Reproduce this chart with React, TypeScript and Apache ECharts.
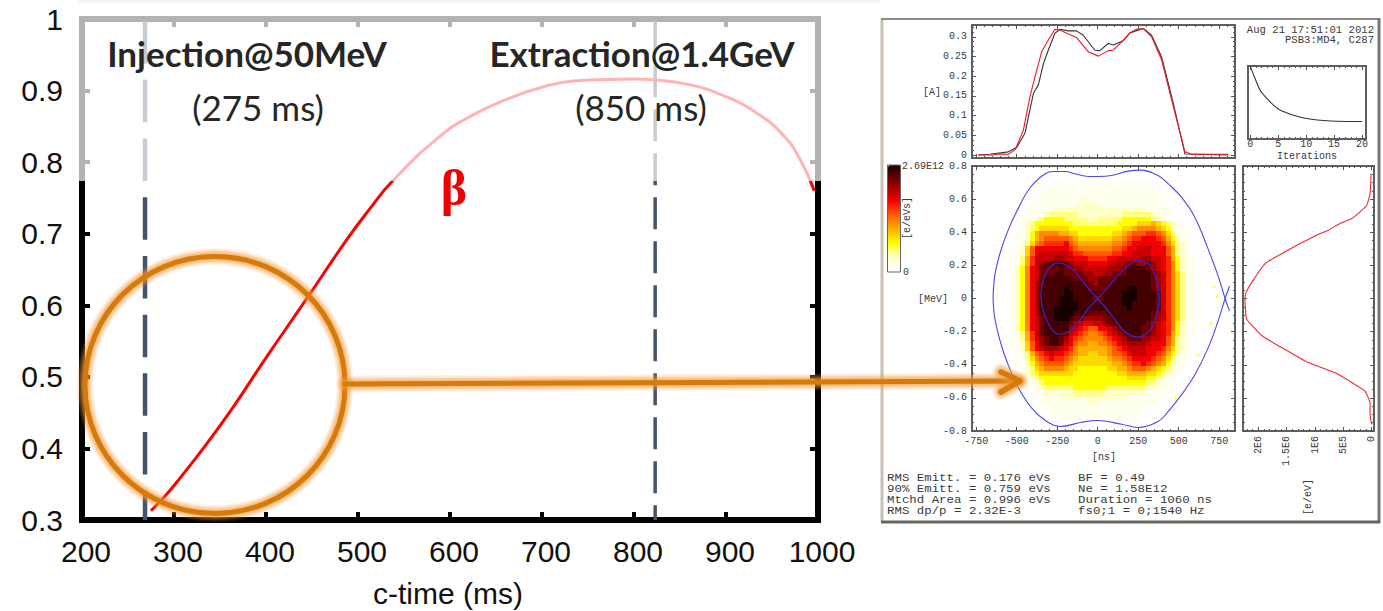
import React, { useEffect, useRef } from "react";
import * as echarts from "echarts";

// ---------- main plot ----------
const betaCurve: number[][] = [
  [275, 0.313], [292, 0.336], [306.5, 0.3585], [335.5, 0.4065], [364.5, 0.458], [400.7, 0.528], [442, 0.605], [488, 0.692],
  [513, 0.735], [537, 0.773], [589, 0.836], [625, 0.866], [662, 0.888], [698, 0.904], [734, 0.9135], [771, 0.9155],
  [800, 0.916], [821, 0.915], [861, 0.908], [897, 0.893], [934, 0.868], [962, 0.838], [980, 0.805], [996, 0.76],
];
const injectionTime = 268.5;
const extractionTime = 823;
const mainYMin = 0.3;
const mainYMax = 1;

// ---------- bunch profile (top panel) ----------
const profileRed: number[][] = [
  [-737, 0], [-654, 0], [-603, 0.0025], [-552, 0.002], [-510, 0.013], [-459, 0.063], [-418, 0.148], [-387, 0.199],
  [-346, 0.262], [-305, 0.292], [-264, 0.319], [-233, 0.317], [-181, 0.307], [-130, 0.298], [-58, 0.262], [4, 0.251],
  [65, 0.265], [96, 0.266], [148, 0.287], [199, 0.31], [240, 0.319], [282, 0.321], [333, 0.3], [395, 0.241],
  [467, 0.123], [539, 0.008], [580, 0.002], [807, 0.002],
];
const profileBlack: number[][] = [
  [-737, 0], [-665, 0.002], [-552, 0.008], [-500, 0.019], [-449, 0.055], [-397, 0.156], [-366, 0.178], [-335, 0.232],
  [-305, 0.266], [-264, 0.309], [-233, 0.319], [-181, 0.315], [-130, 0.315], [-89, 0.304], [-17, 0.266], [14, 0.265],
  [65, 0.283], [96, 0.279], [158, 0.29], [199, 0.31], [282, 0.321], [333, 0.304], [395, 0.249], [467, 0.131],
  [539, 0.0025], [807, 0],
];
const profileTicks = [0, 0.05, 0.1, 0.15, 0.2, 0.25, 0.3];

// ---------- iterations ----------
const iterationCurve: number[][] = [
  [0, 1], [0.9, 0.827], [1.8, 0.668], [3, 0.555], [4.2, 0.464], [5.4, 0.395], [7.2, 0.341], [9, 0.3],
  [11.3, 0.268], [13.1, 0.255], [15.5, 0.245], [20, 0.241],
];
const iterationTicks = [0, 5, 10, 15, 20];

// ---------- phase space ----------
const nsTicks = [-750, -500, -250, 0, 250, 500, 750];
const mevTicks = [-0.8, -0.6, -0.4, -0.2, 0, 0.2, 0.4, 0.6, 0.8];
const outerUpper: number[][] = [
  [-646, 0], [-635, 0.14], [-601, 0.28], [-554, 0.41], [-498, 0.53], [-416, 0.67], [-324, 0.753], [-273, 0.767],
  [-201, 0.767], [-139, 0.753], [-57, 0.737], [0, 0.737], [86, 0.743], [189, 0.769], [260, 0.775], [373, 0.743],
  [435, 0.693], [517, 0.612], [599, 0.492], [681, 0.301], [742, 0.141], [787, 0], [814, -0.076],
];
const outerLower: number[][] = [
  [814, 0.074], [787, 0], [742, -0.141], [681, -0.301], [599, -0.462], [517, -0.582], [435, -0.683], [373, -0.743],
  [250, -0.779], [148, -0.759], [0, -0.737], [-98, -0.747], [-232, -0.773], [-314, -0.743], [-406, -0.663],
  [-488, -0.542], [-560, -0.382], [-601, -0.261], [-635, -0.12], [-646, 0],
];
const innerEight: number[][] = [
  [0, 0], [-57, 0.06], [-139, 0.161], [-201, 0.205], [-242, 0.215], [-293, 0.191], [-334, 0.12], [-351, 0.02],
  [-334, -0.08], [-293, -0.171], [-242, -0.215], [-191, -0.207], [-119, -0.141], [-57, -0.06], [0, 0], [66, 0.07],
  [148, 0.161], [250, 0.229], [322, 0.201], [363, 0.11], [379, 0], [363, -0.1], [322, -0.191], [250, -0.233],
  [168, -0.201], [86, -0.1], [0, 0],
];
const specks: number[][] = [
  [-370, 0.7], [-490, 0.54], [-590, 0.29], [720, 0.07], [740, 0.01], [700, -0.15], [620, -0.34], [480, -0.6],
];
// density levels (one hex digit per cell, spaces only for reading), top row first
const densityXStart = -645;
const densityXStep = 30;
const densityYStart = 0.78;
const densityYStep = 0.03;
const densityRows: string[] = [
  "0000 0000 0000 0000 0000 0000 0000 0000 0000 0000 0000",
  "0000 0000 0000 0000 0000 0000 0000 0000 0000 0000 0000",
  "0000 0000 0000 0000 0000 0000 0000 0000 0000 0000 0000",
  "0000 0000 0000 0111 1111 1111 1111 1111 1000 0000 0000",
  "0000 0000 0001 1111 1111 1111 1111 1111 1100 0000 0000",
  "0000 0000 0011 1111 1111 1111 1111 1111 1110 0000 0000",
  "0000 0000 0111 1111 1112 1111 1111 1111 1110 0000 0000",
  "0000 0000 1111 1111 1122 2211 1111 1111 1111 0000 0000",
  "0000 0001 1111 1222 2222 2222 2222 2222 1111 1000 0000",
  "0000 0001 1112 3333 3322 2222 2223 3333 3221 1000 0000",
  "0000 0011 1234 4443 3333 2233 3334 4444 4321 1000 0000",
  "0000 0012 3444 4444 4333 3333 3344 4455 5654 3211 0000",
  "0000 0012 3455 5555 4444 4444 4445 5677 7765 4211 0000",
  "0000 0112 4677 7766 5544 4444 4556 7888 9987 5321 1000",
  "0000 0112 4678 8888 7655 5555 5667 899a aa98 6421 1000",
  "0000 0113 5789 999a 8766 6666 6778 9aaa aaa9 7532 1000",
  "0000 1125 8aaa aaaa 9877 7777 7889 aabb baaa 8632 1000",
  "0000 1125 8abb bbbb a998 8888 899a abbb baaa 8632 1000",
  "0000 1136 9bbb bccb baaa 9999 aabb bbbc cbba 9642 1100",
  "0000 1136 9bcd eeed cbbb aaaa bbcc ddcc dcba 9742 1100",
  "0000 1247 abdd dded dccb bbbb cccd eeee dcba 9742 1100",
  "0000 1247 abdd deed dddc cbbc cddd eeee edcb 9753 1100",
  "0000 1247 abde eeee eddd ccdd ddee eeee edcb 9753 1100",
  "0000 1247 acde eeee eeed dcdd deee eeee edcb 9753 1100",
  "0000 1247 acee eeef eeee dddd eeee ffee edcb 9753 1100",
  "0000 1247 acee eeef feee eeee eeef ffee eedb 9753 1100",
  "0000 1247 acee eeff feee edde eeef ffee eedb 9753 1100",
  "0000 1247 acee eeff ffee eeee eeef feee eedb 9753 1100",
  "0000 1247 acee efff ffee eeee eeee feee eedb 9753 1100",
  "0000 1247 acee efff feee dddd eeee eeee edcb 9753 1100",
  "0000 1247 abde efff eddc cccd deee eeee edcb 9753 1100",
  "0000 1247 abde eeee dcba abbc ddee eeee dcba 9742 1100",
  "0000 1247 abde eeee cba9 88aa bcde eeed dcba 9742 1100",
  "0000 1136 9bde eeed ba98 7789 abcd eeed dcba 9642 1100",
  "0000 1136 9bcd eedc a987 7778 9abc dddc cbba 8632 1000",
  "0000 1125 8acd eedb a877 6677 89ab cccc baaa 8632 1000",
  "0000 0125 8abc ccba 9766 6666 789a bbbb aaa9 7532 1000",
  "0000 0113 689a baa9 8766 5566 7889 abbb aa98 6421 1000",
  "0000 0113 5789 a998 7655 5555 6778 9aaa a987 5321 1000",
  "0000 0112 4678 8887 6555 5555 5667 899a 9876 4211 0000",
  "0000 0012 3567 7776 5544 4444 5566 7888 7654 3211 0000",
  "0000 0012 3455 5555 5444 4444 4455 6666 5543 2110 0000",
  "0000 0011 2344 4444 4444 4444 4444 5555 4432 1100 0000",
  "0000 0001 1234 4444 4444 4444 4444 4444 3321 1000 0000",
  "0000 0001 1123 3333 3444 4444 3333 3333 2211 1000 0000",
  "0000 0000 1112 2222 2333 3332 2222 2222 1111 0000 0000",
  "0000 0000 0111 1122 2222 2222 2222 1111 1110 0000 0000",
  "0000 0000 0011 1111 1111 2211 1111 1111 1100 0000 0000",
  "0000 0000 0001 1111 1111 1111 1111 1111 1000 0000 0000",
  "0000 0000 0000 1111 1111 1111 1111 1111 0000 0000 0000",
  "0000 0000 0000 0011 1111 1111 1111 1100 0000 0000 0000",
  "0000 0000 0000 0000 0000 0000 0000 0000 0000 0000 0000",
  "0000 0000 0000 0000 0000 0000 0000 0000 0000 0000 0000",
];
const densityColors = [
  "#ffffff", "#fffff0", "#ffffc8", "#ffff80", "#ffff00", "#ffd800", "#ffb000", "#ff8800",
  "#ff5c00", "#ff2c00", "#f00000", "#c80000", "#a00000", "#700000", "#440000", "#160000",
];

// ---------- energy profile (right panel) ----------
const energyProfile: number[][] = [
  [0.012e6, 0.755], [0.029e6, 0.634], [0.088e6, 0.563], [0.206e6, 0.523], [0.353e6, 0.483], [0.559e6, 0.453],
  [0.765e6, 0.412], [0.97e6, 0.382], [1.26e6, 0.332], [1.53e6, 0.282], [1.88e6, 0.211], [2.09e6, 0.111],
  [2.21e6, 0.04], [2.235e6, 0], [2.21e6, -0.121], [2.09e6, -0.171], [1.91e6, -0.231], [1.56e6, -0.302],
  [1.15e6, -0.382], [0.618e6, -0.453], [0.324e6, -0.513], [0.118e6, -0.559], [0.029e6, -0.634], [0.029e6, -0.704],
  [0, -0.76],
];
const energyTicks = [0, 5e5, 1e6, 1.5e6, 2e6];
const energyLabels: Record<number, string> = { 0: "0", 500000: "5E5", 1000000: "1E6", 1500000: "1.5E6", 2000000: "2E6" };

// ---------- text block ----------
const statsLeft = ["RMS Emitt. = 0.176 eVs", "90% Emitt. = 0.759 eVs", "Mtchd Area = 0.996 eVs", "RMS dp/p = 2.32E-3"];
const statsRight = ["BF = 0.49", "Ne = 1.58E12", "Duration = 1060 ns", "fs0;1 = 0;1540 Hz"];

const MONO = "'Liberation Mono', monospace";
const INK = "#3a3a3a";
const FRAME = "#555555";
const ORANGE = "#d67a0a";
const GLOW = "#f59a3c";

const xAxes: any[] = [];
const yAxes: any[] = [];

function range(from: number, to: number, step: number, digits = 4) {
  const out: number[] = [];
  for (let v = from; v <= to + step / 1000; v += step) out.push(+v.toFixed(digits));
  return out;
}

function addPanelAxis(
  dim: "x" | "y", gridIndex: number, min: number, max: number,
  majors: number[], minors: number[], label: any, inverse = false,
) {
  const list = dim === "x" ? xAxes : yAxes;
  const pos = dim === "x" ? ["bottom", "top"] : ["left", "right"];
  const index = list.length;
  const mk = (position: string, ticks: number[], len: number, lab: any) => ({
    type: "value", gridIndex, min, max, position, inverse, splitLine: { show: false },
    axisLine: { show: true, onZero: false, lineStyle: { color: FRAME, width: 1.5 } },
    axisTick: { show: ticks.length > 0, inside: true, length: len, customValues: ticks, lineStyle: { color: FRAME, width: 1 } },
    axisLabel: lab ?? { show: false },
  });
  list.push(mk(pos[0], majors, 4, label));
  list.push(mk(pos[0], minors, 2, null));
  list.push(mk(pos[1], majors, 4, null));
  list.push(mk(pos[1], minors, 2, null));
  return index;
}

const monoLabel = (values: number[], formatter: any, extra: any = {}) => ({
  show: true, customValues: values, formatter, fontFamily: MONO, fontSize: 10, color: INK, margin: 5, ...extra,
});

function buildOption() {
  xAxes.length = 0;
  yAxes.length = 0;

  const blackLine = { show: true, onZero: false, lineStyle: { color: "#000", width: 6, cap: "square" } };
  const blackTick = { show: true, inside: true, length: 8, lineStyle: { color: "#000", width: 4 } };
  xAxes.push({
    type: "value", gridIndex: 0, min: 200, max: 1000, interval: 100, position: "bottom", splitLine: { show: false },
    axisLine: blackLine, axisTick: blackTick,
    axisLabel: {
      fontFamily: "'Liberation Sans'", fontSize: 30, color: "#111", margin: 16, padding: [0, 0, 0, 8],
      formatter: (v: number) => String(v),
    },
    name: "c-time (ms)", nameLocation: "middle", nameGap: 58,
    nameTextStyle: { fontFamily: "'Liberation Sans'", fontSize: 30, color: "#111", padding: [0, 4, 0, 0] },
  });
  xAxes.push({
    type: "value", gridIndex: 0, min: 200, max: 1000, interval: 100, position: "top", splitLine: { show: false },
    axisLine: blackLine, axisTick: blackTick, axisLabel: { show: false },
  });
  yAxes.push({
    type: "value", gridIndex: 0, min: mainYMin, max: mainYMax, interval: 0.1, position: "left", splitLine: { show: false },
    axisLine: blackLine, axisTick: blackTick,
    axisLabel: {
      fontFamily: "'Liberation Sans'", fontSize: 30, color: "#111", margin: 19,
      formatter: (v: number) => (v === 1 ? "1" : v.toFixed(1)),
    },
  });
  yAxes.push({
    type: "value", gridIndex: 0, min: mainYMin, max: mainYMax, interval: 0.1, position: "right", splitLine: { show: false },
    axisLine: blackLine, axisTick: blackTick, axisLabel: { show: false },
  });

  const nsMin = -776;
  const nsMax = 848;
  const nsMinor = range(-750, 800, 50, 0);
  const mevMinor = range(-0.8, 0.8, 0.05, 2);

  const pX = addPanelAxis("x", 1, nsMin, nsMax, nsTicks, nsMinor, null);
  const pY = addPanelAxis("y", 1, -0.0076, 0.33, profileTicks, range(0, 0.325, 0.0125, 4),
    monoLabel(profileTicks, (v: number) => String(v)));
  const iX = addPanelAxis("x", 2, -0.4, 20.7, iterationTicks, range(0, 20, 1, 0),
    monoLabel(iterationTicks, (v: number) => String(v), { margin: 0 }));
  const iY = addPanelAxis("y", 2, 0, 1.005, [], [], null);
  const sX = addPanelAxis("x", 3, nsMin, nsMax, nsTicks, nsMinor,
    monoLabel(nsTicks, (v: number) => String(v)));
  const sY = addPanelAxis("y", 3, -0.8, 0.8, mevTicks, mevMinor,
    monoLabel(mevTicks, (v: number) => (v === 0 ? "0" : v.toFixed(1))));
  const eX = addPanelAxis("x", 4, -4e4, 2.27e6, energyTicks, range(0, 2.2e6, 1e5, 0),
    monoLabel(energyTicks, (v: number) => energyLabels[v] ?? "", { rotate: 90, margin: 5 }), true);
  const eY = addPanelAxis("y", 4, -0.8, 0.8, mevTicks, mevMinor, null);

  const densityData: number[][] = [];
  densityRows.forEach((row, r) => {
    row.replace(/ /g, "").split("").forEach((c, k) => {
      const level = parseInt(c, 16);
      if (level > 0) {
        densityData.push([densityXStart + k * densityXStep, +(densityYStart - r * densityYStep).toFixed(2), level]);
      }
    });
  });

  const line = (data: number[][], xAxisIndex: number, yAxisIndex: number, color: string, width: number, extra: any = {}) => ({
    type: "line", data, xAxisIndex, yAxisIndex, showSymbol: false, symbol: "none", silent: true,
    lineStyle: { color, width, ...(extra.lineStyle ?? {}) }, smooth: extra.smooth ?? false, z: extra.z ?? 3, clip: extra.clip ?? true,
  });

  const series: any[] = [
    line([[injectionTime, 0.997], [injectionTime, mainYMin]], 0, 0, "#44546a", 4.5, { lineStyle: { type: [42.5, 16.2] } }),
    line([[extractionTime, 0.997], [extractionTime, mainYMin]], 0, 0, "#44546a", 3.5, { lineStyle: { type: [32, 12] } }),
    line(betaCurve, 0, 0, "#ff0000", 3, { smooth: 0.5, z: 4, clip: false }),
    line(profileBlack, pX, pY, "#333333", 1.1),
    line(profileRed, pX, pY, "#f01820", 1.1, { z: 4 }),
    line(iterationCurve, iX, iY, "#333333", 1.1, { smooth: 0.3 }),
    {
      type: "custom", id: "density", data: densityData, xAxisIndex: sX, yAxisIndex: sY, silent: true, z: 2,
      encode: { x: 0, y: 1 },
      renderItem: (_p: any, api: any) => {
        const x = api.value(0);
        const y = api.value(1);
        const a = api.coord([x - densityXStep / 2, y + densityYStep / 2]);
        const b = api.coord([x + densityXStep / 2, y - densityYStep / 2]);
        const x0 = Math.round(a[0]);
        const y0 = Math.round(a[1]);
        return {
          type: "rect",
          shape: { x: x0, y: y0, width: Math.round(b[0]) - x0, height: Math.round(b[1]) - y0 },
          style: { fill: api.visual("color") },
        };
      },
    },
    {
      type: "scatter", data: specks, xAxisIndex: sX, yAxisIndex: sY, symbol: "rect", symbolSize: 3, silent: true, z: 3,
      itemStyle: { color: "#ffff50" },
    },
    line(outerUpper, sX, sY, "#4a4ae8", 1.1, { smooth: 0.4, z: 4 }),
    line(outerLower, sX, sY, "#4a4ae8", 1.1, { smooth: 0.4, z: 4 }),
    line(innerEight, sX, sY, "#2a2ad8", 1.2, { smooth: 0.4, z: 4 }),
    line(energyProfile, eX, eY, "#f02830", 1.1, { smooth: 0.15 }),
  ];
  const densityIndex = series.findIndex((s) => s.id === "density");

  const monoText = (text: string, x: number, y: number, extra: any = {}, elExtra: any = {}) => ({
    type: "text", x, y, z: 90,
    style: { text, fontFamily: MONO, fontSize: 10, fill: INK, textAlign: "left", textVerticalAlign: "middle", ...extra },
    ...elExtra,
  });
  const heading = (text: string, x: number, y: number, size: number, weight: string) => ({
    type: "text", x, y, z: 120,
    style: { text, fontFamily: "Lato", fontSize: size, fontWeight: weight, fill: "#262626", textAlign: "center", textVerticalAlign: "middle" },
  });
  const halo: [number, number][] = [[17, 0.12], [14, 0.18], [11, 0.25], [8, 0.35]];
  const glowing = (type: string, shape: any, z: number, width = 5) => [
    ...halo.map(([w, o]) => ({
      type, z, shape, silent: true,
      style: { stroke: GLOW, lineWidth: w + (width - 5), fill: "none", opacity: o, lineCap: "round", lineJoin: "round" },
    })),
    { type, z, shape, silent: true, style: { stroke: ORANGE, lineWidth: width, fill: "none", lineCap: "round", lineJoin: "round" } },
  ];

  const graphic: any[] = [
    { type: "rect", z: 0, shape: { x: 78, y: 0, width: 802, height: 3 }, style: { fill: "#f6f6f6" } },
    { type: "rect", z: 80, shape: { x: 76, y: 10, width: 748, height: 171 }, style: { fill: "#ffffff", opacity: 0.7 } },
    heading("Injection@50MeV", 247, 53, 35, "bold"),
    heading("(275 ms)", 258, 107, 35, "normal"),
    heading("Extraction@1.4GeV", 642, 53, 35, "bold"),
    heading("(850 ms)", 641, 107, 35, "normal"),
    {
      type: "text", x: 454, y: 188, z: 120,
      style: { text: "β", fontFamily: "'Liberation Serif'", fontSize: 50, fontWeight: "bold", fill: "#f00000", textAlign: "center", textVerticalAlign: "middle" },
    },
    ...glowing("ellipse", { cx: 215, cy: 385, rx: 130, ry: 128.5 }, 60),
    ...glowing("line", { x1: 345, y1: 384, x2: 1019, y2: 381 }, 61),
    ...glowing("polyline", { points: [[1001, 372], [1020, 381], [1001, 392]] }, 61, 5.5),
    { type: "line", z: 1, shape: { x1: 882, y1: 19, x2: 882, y2: 522 }, style: { stroke: "#c9c0b2", lineWidth: 3 } },
    { type: "line", z: 1, shape: { x1: 881, y1: 19, x2: 1380, y2: 19 }, style: { stroke: "#8c8c84", lineWidth: 2 } },
    { type: "line", z: 1, shape: { x1: 1379, y1: 18, x2: 1379, y2: 523 }, style: { stroke: "#77776f", lineWidth: 3 } },
    { type: "line", z: 1, shape: { x1: 881, y1: 522, x2: 1380, y2: 522 }, style: { stroke: "#66665e", lineWidth: 3 } },
    { type: "rect", z: 90, shape: { x: 887.5, y: 165, width: 13, height: 107 }, style: { fill: "none", stroke: "#666", lineWidth: 1 } },
    monoText("2.69E12", 902, 166),
    monoText("0", 903, 272),
    monoText("[e/eVs]", 907, 218, { textAlign: "center" }, { rotation: Math.PI / 2 }),
    monoText("[A]", 932, 92, { textAlign: "center" }),
    monoText("[MeV]", 933, 299, { textAlign: "center" }),
    monoText("[ns]", 1104, 457, { textAlign: "center" }),
    monoText("Iterations", 1307, 156, { textAlign: "center" }),
    monoText("[e/eV]", 1308, 497, { textAlign: "center" }, { rotation: Math.PI / 2 }),
    monoText("Aug 21 17:51:01 2012", 1374, 30, { textAlign: "right", fontSize: 10.6 }),
    monoText("PSB3:MD4, C287", 1374, 40, { textAlign: "right", fontSize: 10.6 }),
  ];
  const rowY = [478, 489, 500, 511];
  const wide = { scaleX: 1.15 };
  statsLeft.forEach((t, i) => graphic.push(monoText(t, 887, rowY[i], { fontSize: 10.8 }, wide)));
  statsRight.forEach((t, i) => graphic.push(monoText(t, 1078, rowY[i], { fontSize: 10.8 }, wide)));

  const free = { outerBoundsMode: "none" };
  return {
    animation: false,
    backgroundColor: "#ffffff",
    grid: [
      { left: 82, top: 19, width: 736, height: 501, ...free },
      { left: 972, top: 25, width: 263, height: 133, ...free },
      { left: 1248, top: 66, width: 118, height: 73, ...free },
      { left: 972, top: 166, width: 263, height: 265, ...free },
      { left: 1243, top: 166, width: 131, height: 265, ...free },
    ],
    xAxis: xAxes,
    yAxis: yAxes,
    visualMap: {
      type: "continuous", seriesIndex: densityIndex, dimension: 2, min: 0, max: 15,
      inRange: { color: densityColors }, left: 888, top: 165, itemWidth: 13, itemHeight: 107,
      padding: 0, calculable: false, hoverLink: false, showLabel: false,
      textStyle: { fontSize: 0 },
    },
    series,
    graphic,
  };
}

export default function App() {
  const ref = useRef<HTMLDivElement>(null);
  useEffect(() => {
    if (!ref.current) return;
    const chart = echarts.init(ref.current, null, { renderer: "svg" });
    chart.setOption(buildOption() as any);
    return () => chart.dispose();
  }, []);
  return <div ref={ref} style={{ position: "fixed", left: 0, top: 0, width: 1383, height: 611, background: "#fff" }} />;
}
